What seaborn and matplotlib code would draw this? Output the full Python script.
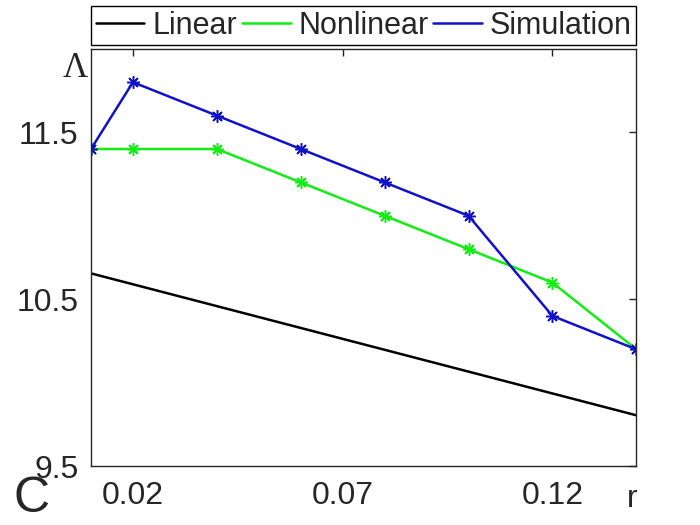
import numpy as np
import pandas as pd
import matplotlib
matplotlib.use("Agg")
import matplotlib.pyplot as plt
import seaborn as sns

# data
r_points = [0.01, 0.02, 0.04, 0.06, 0.08, 0.10, 0.12, 0.14]
lam_nonlinear = [11.4, 11.4, 11.4, 11.2, 11.0, 10.8, 10.6, 10.2]
lam_simulation = [11.4, 11.8, 11.6, 11.4, 11.2, 11.0, 10.4, 10.2]
r_linear = [0.01, 0.14]
lam_linear = [10.655, 9.805]

x_ticks = [0.02, 0.07, 0.12]
x_ticklabels = ["0.02", "0.07", "0.12"]
y_ticks = [9.5, 10.5, 11.5]
y_ticklabels = ["9.5", "10.5", "11.5"]

sns.set_style("white")
plt.rcParams["font.family"] = ["Liberation Sans", "DejaVu Sans"]

fig = plt.figure(figsize=(7, 5.25), dpi=100)
ax = fig.add_axes([0.13, 0.112, 0.779, 0.795])

star = (8, 2, 0)  # matlab-like asterisk
sns.lineplot(x=r_linear, y=lam_linear, ax=ax, color="black", linewidth=1.8,
             label="Linear")
sns.lineplot(x=r_points, y=lam_nonlinear, ax=ax, color="#11ee11", linewidth=1.8,
             marker=star, markersize=9, markeredgewidth=1.1,
             markeredgecolor="#11ee11", label="Nonlinear")
sns.lineplot(x=r_points, y=lam_simulation, ax=ax, color="#1111cc", linewidth=1.8,
             marker=star, markersize=9, markeredgewidth=1.1,
             markeredgecolor="#1111cc", label="Simulation")

ax.set_xlim(0.01, 0.14)
ax.set_ylim(9.5, 12.0)
ax.set_xticks(x_ticks)
ax.set_xticklabels(x_ticklabels)
ax.set_yticks(y_ticks)
ax.set_yticklabels(y_ticklabels)
ax.tick_params(direction="in", length=5, width=1, top=True, right=True,
               labelsize=23, colors="#262626", pad=11)
ax.tick_params(axis="y", pad=9)
for s in ax.spines.values():
    s.set_color("#262626")
    s.set_linewidth(1.0)
ax.set_xlabel("")
ax.set_ylabel("")

ax.get_legend().remove()
handles, labels = ax.get_legend_handles_labels()
fig.legend(handles, labels, loc="lower left", ncol=3, mode="expand",
           bbox_to_anchor=(0.13, 0.914, 0.779, 0.08), fontsize=22,
           frameon=True, fancybox=False, edgecolor="black", framealpha=1,
           handlelength=1.6, handletextpad=0.25, columnspacing=0.3,
           borderaxespad=0, borderpad=0.15)
for line in fig.legends[0].get_lines():
    line.set_marker("")

fig.text(0.108, 0.87, "Λ", fontsize=25, family="Liberation Serif",
         ha="center", va="center")
fig.text(0.903, 0.05, "r", fontsize=23, ha="center", va="center", color="#262626")
fig.text(0.045, 0.024, "C", fontsize=36, ha="center", va="baseline")

fig.savefig("out.png", dpi=100)
